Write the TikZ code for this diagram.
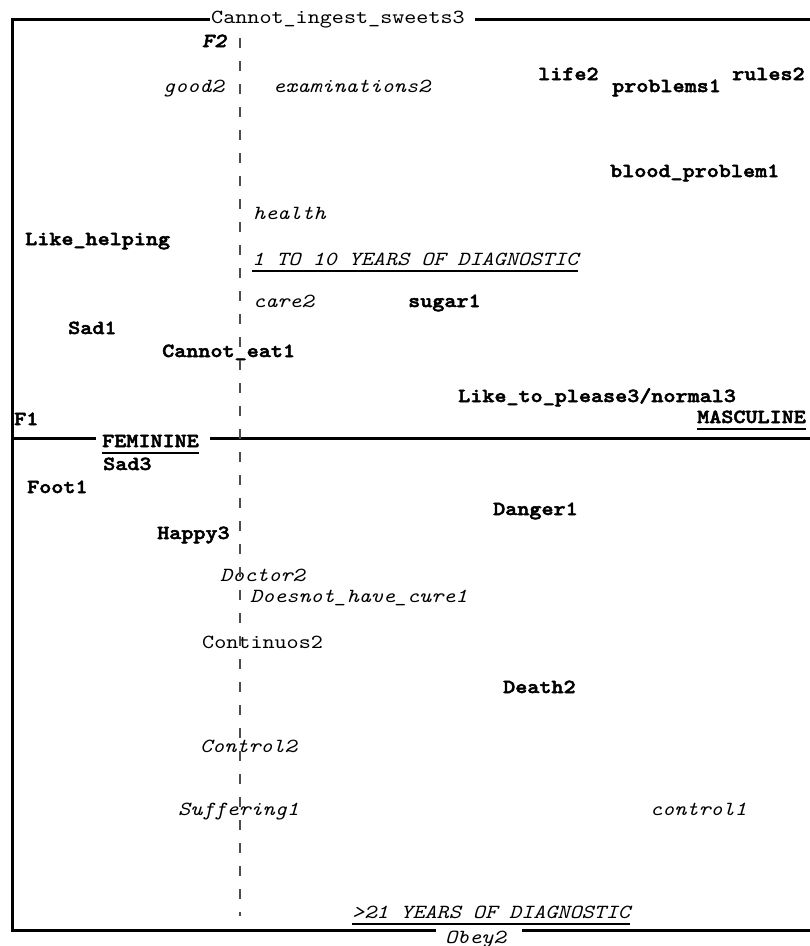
\documentclass[tikz,border=0pt]{standalone}
\usepackage{fontspec}
\newfontfamily\cour{lmmono10-regular}[Extension=.otf, BoldFont=lmmonolt10-bold, ItalicFont=lmmono10-italic, BoldItalicFont=lmmonolt10-boldoblique, FakeStretch=1.15, BoldFeatures={FakeBold=2.5}, BoldItalicFeatures={FakeBold=2.5}]
\begin{document}
\begin{tikzpicture}[x=1pt,y=-1pt,
  treg/.style={anchor=base west,inner sep=0pt,font=\cour\fontsize{20}{24}\selectfont},
  tbf/.style={treg,font=\cour\fontsize{20}{24}\selectfont\bfseries},
  tit/.style={treg,font=\cour\fontsize{20}{24}\selectfont\itshape},
  tbi/.style={treg,font=\cour\fontsize{20}{24}\selectfont\bfseries\itshape},
  framel/.style={line width=3pt},
  ul/.style={line width=2pt},
  vaxis/.style={line width=2pt,black!70,dash pattern=on 10pt off 13pt}]
\useasboundingbox (0,0) rectangle (810,946);
% labels
\node[treg] (top) at (211,23) {Cannot\_ingest\_sweets3};
\node[tbi] (f2) at (202,47) {F2};
\node[tit] (good) at (163,92) {good2};
\node[tit] (exam) at (273,92) {examinations2};
\node[tbf] (life) at (538,80) {life2};
\node[tbf] (rules) at (732,80) {rules2};
\node[tbf] (prob) at (612,92) {problems1};
\node[tbf] (blood) at (610,177) {blood\_problem1};
\node[tit] (health) at (253,219) {health};
\node[tbf] (likeh) at (25,245) {Like\_helping};
\node[tit] (yrsa) at (252,265) {1 TO 10 YEARS OF DIAGNOSTIC};
\node[tit] (care) at (253,307) {care2};
\node[tbf] (sugar) at (408,307) {sugar1};
\node[tbf] (sada) at (68,334) {Sad1};
\node[tbf] (ceat) at (162,357) {Cannot\_eat1};
\node[tbf] (liketo) at (458,402) {Like\_to\_please3/normal3};
\node[tbf] (masc) at (697,423) {MASCULINE};
\node[tbf] (fa) at (14,425) {F1};
\node[tbf] (fem) at (102,447) {FEMININE};
\node[tbf] (sadc) at (103,470) {Sad3};
\node[tbf] (foot) at (27,493) {Foot1};
\node[tbf] (danger) at (493,515) {Danger1};
\node[tbf] (happy) at (157,539) {Happy3};
\node[tit] (doctor) at (220,581) {Doctor2};
\node[tit] (cure) at (250,602) {Doesnot\_have\_cure1};
\node[treg] (cont) at (202,648) {Continuos2};
\node[tbf] (death) at (503,693) {Death2};
\node[tit] (controlb) at (200,752) {Control2};
\node[tit] (suff) at (178,815) {Suffering1};
\node[tit] (controla) at (650,815) {control1};
\node[tit] (yrsb) at (352,918) {>21 YEARS OF DIAGNOSTIC};
\node[tit] (obey) at (445,943) {Obey2};
% underlines
\foreach \n in {yrsa,masc,fem,yrsb}
  \draw[ul] ([yshift=-6pt]\n.base west) -- ([yshift=-6pt]\n.base east);
% frame
\draw[framel] (210,19) -- (12,19) -- (12,930) -- (436,930);
\draw[framel] (475,19) -- (810,19);
\draw[framel] (522,930) -- (810,930);
% horizontal axis
\draw[framel] (12,438) -- (96,438);
\draw[framel] (210,438) -- (810,438);
% vertical dashed axis
\draw[vaxis] (240,38) -- (240,916);
\end{tikzpicture}
\end{document}
